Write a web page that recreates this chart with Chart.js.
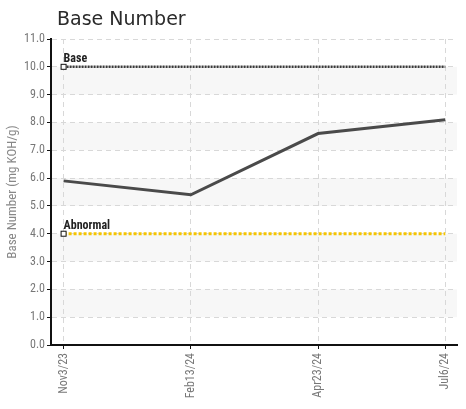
<!DOCTYPE html>
<html>
<head>
<meta charset="utf-8">
<script src="https://cdn.jsdelivr.net/npm/chart.js@4.4.1/dist/chart.umd.min.js"></script>
<style>
  html, body { margin: 0; padding: 0; background: #fff; }
  #wrap { width: 466px; height: 409px; }
</style>
</head>
<body>
<div id="wrap"><canvas id="chart"></canvas></div>
<script>
const categories = ["Nov3/23", "Feb13/24", "Apr23/24", "Jul6/24"];
const baseNumber = [5.9, 5.4, 7.6, 8.1];
const baseLimit = 10.0;
const abnormalLimit = 4.0;
const yMin = 0;
const yMax = 11;

const condensed = "'Liberation Sans Narrow', 'Roboto Condensed', 'DejaVu Sans Condensed', sans-serif";

const points = baseNumber.map((v, i) => ({ x: i, y: v }));
const limitLine = (v) => [{ x: 0, y: v }, { x: categories.length - 1, y: v }];

// alternating grey bands + title
const bandsPlugin = {
  id: "bands",
  beforeDraw(chart) {
    const { ctx, chartArea, scales } = chart;
    ctx.save();
    ctx.fillStyle = "#f7f7f7";
    for (let v = yMax - 1; v > yMin; v -= 2) {
      const top = scales.y.getPixelForValue(v);
      const bottom = scales.y.getPixelForValue(v - 1);
      ctx.fillRect(chartArea.left, top, chartArea.right - chartArea.left, bottom - top);
    }
    ctx.fillStyle = "#2a2a2a";
    ctx.font = "19px 'DejaVu Sans', sans-serif";
    ctx.textBaseline = "alphabetic";
    ctx.fillText("Base Number", 57, 25);
    ctx.restore();
  }
};

// square marker + label at the start of each limit line
const limitLabels = {
  id: "limitLabels",
  afterDatasetsDraw(chart) {
    const { ctx, scales } = chart;
    const items = [["Base", baseLimit], ["Abnormal", abnormalLimit]];
    ctx.save();
    items.forEach(([text, v]) => {
      const x = scales.x.getPixelForValue(0);
      const y = scales.y.getPixelForValue(v);
      ctx.fillStyle = "#fff";
      ctx.strokeStyle = "#111";
      ctx.lineWidth = 1;
      ctx.fillRect(x - 2.5, y - 2.5, 5, 5);
      ctx.strokeRect(x - 2.5, y - 2.5, 5, 5);
      ctx.fillStyle = "#222";
      ctx.font = "bold 12px " + condensed;
      ctx.textBaseline = "bottom";
      ctx.fillText(text, x, y - 2);
    });
    ctx.restore();
  }
};

new Chart(document.getElementById("chart"), {
  type: "line",
  data: {
    datasets: [
      {
        label: "Base Number",
        data: points,
        borderColor: "#4a4a4a",
        borderWidth: 3,
        pointRadius: 0,
        tension: 0
      },
      {
        label: "Base",
        data: limitLine(baseLimit),
        borderColor: "#3a3a3a",
        borderWidth: 2.5,
        borderDash: [2, 1],
        pointRadius: 0
      },
      {
        label: "Abnormal",
        data: limitLine(abnormalLimit),
        borderColor: "#f5c400",
        borderWidth: 3,
        borderDash: [3, 2],
        pointRadius: 0
      }
    ]
  },
  options: {
    responsive: true,
    maintainAspectRatio: false,
    animation: false,
    layout: { padding: { top: 39, right: 9, left: 0, bottom: 0 } },
    plugins: {
      legend: { display: false },
      tooltip: { enabled: false }
    },
    scales: {
      x: {
        type: "linear",
        min: -0.099,
        max: 3.092,
        afterFit: (s) => { s.height = 64; },
        afterBuildTicks: (s) => { s.ticks = categories.map((c, i) => ({ value: i })); },
        ticks: {
          color: "#777",
          font: { family: condensed, size: 12 },
          minRotation: 90,
          maxRotation: 90,
          padding: 4,
          callback: (v) => categories[v]
        },
        grid: {
          color: "#d8d8d8",
          tickColor: "#111",
          tickBorderDash: [],
          tickLength: 4
        },
        border: { color: "#111", width: 2, dash: [5, 4] }
      },
      y: {
        min: yMin,
        max: yMax,
        afterFit: (s) => { s.width = 51; },
        ticks: {
          stepSize: 1,
          color: "#777",
          font: { family: condensed, size: 12 },
          padding: 2,
          callback: (v) => Number(v).toFixed(1)
        },
        grid: {
          color: "#d8d8d8",
          tickColor: "#111",
          tickBorderDash: [],
          tickLength: 4
        },
        border: { color: "#111", width: 2, dash: [5, 4] },
        title: {
          display: true,
          text: "Base Number (mg KOH/g)",
          color: "#888",
          font: { family: condensed, size: 13 },
          padding: { top: 5, bottom: 0 }
        }
      }
    }
  },
  plugins: [bandsPlugin, limitLabels]
});
</script>
</body>
</html>
